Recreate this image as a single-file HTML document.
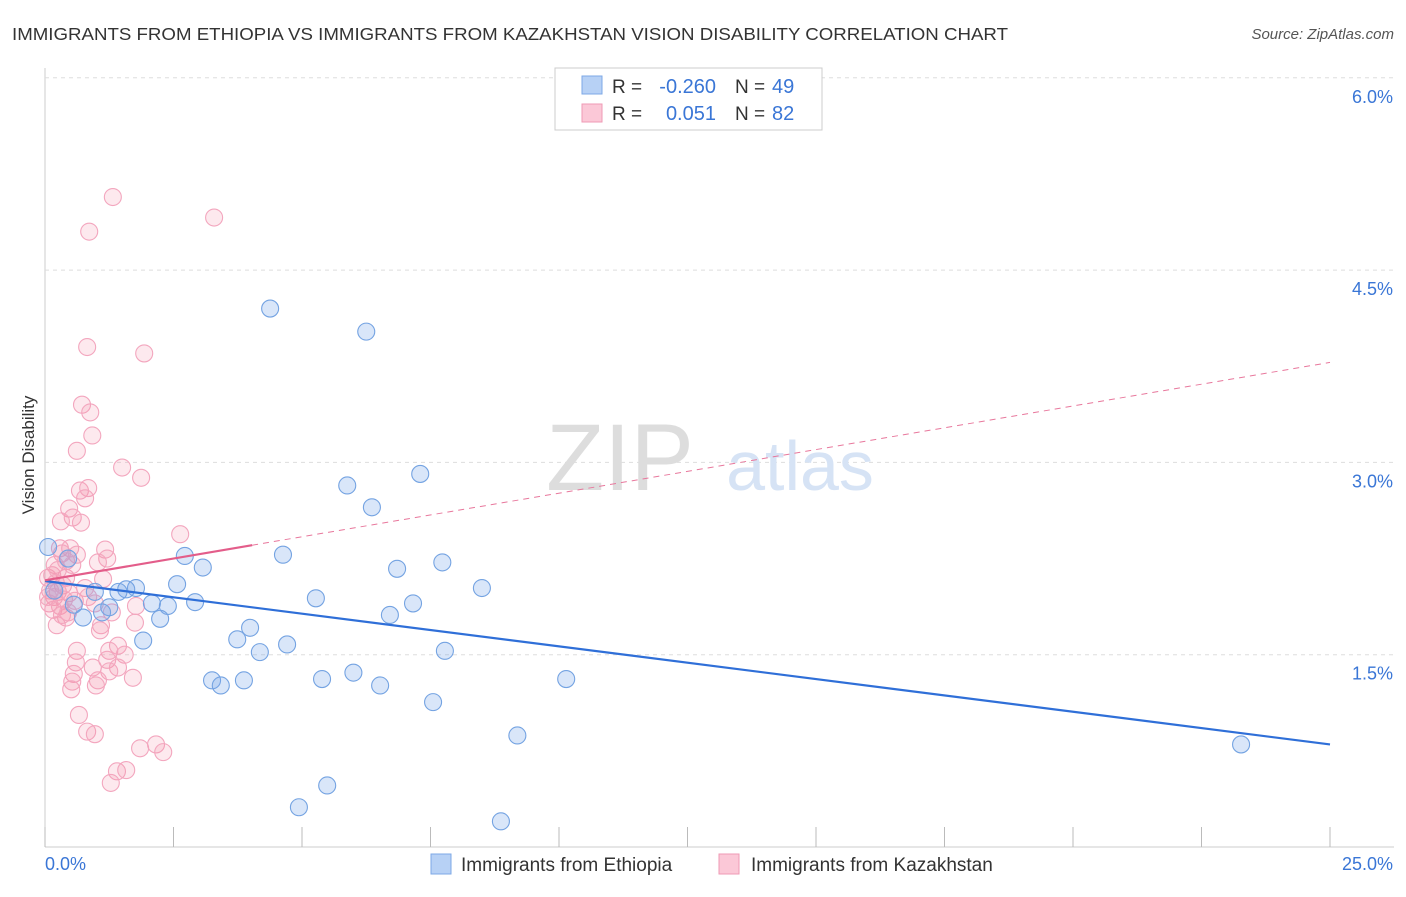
<!DOCTYPE html>
<html><head><meta charset="utf-8"><style>
body{margin:0;background:#fff;font-family:"Liberation Sans",sans-serif;}
svg text{font-family:"Liberation Sans",sans-serif;}
</style></head><body>
<svg id="chart" width="1406" height="892">
<text x="12" y="40" font-size="17.5" fill="#333" textLength="996" lengthAdjust="spacingAndGlyphs">IMMIGRANTS FROM ETHIOPIA VS IMMIGRANTS FROM KAZAKHSTAN VISION DISABILITY CORRELATION CHART</text>
<text x="1394" y="39" font-size="15" fill="#555" font-style="italic" text-anchor="end">Source: ZipAtlas.com</text>
<text x="34" y="455" font-size="17" fill="#333" text-anchor="middle" transform="rotate(-90 34 455)">Vision Disability</text>
<g id="grid"></g>
<g id="yticks"></g>
<g id="xticks"></g>
<text x="620" y="490" font-size="95" fill="#ddd" font-family="Liberation Serif" text-anchor="middle">ZIP</text>
<text x="800" y="490" font-size="70" fill="#d6e3f5" text-anchor="middle">atlas</text>
<g id="pink"></g>
<g id="blue"></g>
<g id="lines"></g>
<g>
<rect x="555" y="68" width="267" height="62" fill="#fff" stroke="#ccc"/>
<rect x="582" y="76" width="20" height="18" fill="#b7d1f5" stroke="#7ea8e6"/>
<rect x="582" y="104" width="20" height="18" fill="#fbc8d7" stroke="#ef9ab4"/>
<text x="612" y="93" font-size="19" fill="#333">R =</text>
<text x="716" y="93" font-size="20" fill="#3a76d6" text-anchor="end">-0.260</text>
<text x="735" y="93" font-size="19" fill="#333">N =</text>
<text x="772" y="93" font-size="20" fill="#3a76d6">49</text>
<text x="612" y="120" font-size="19" fill="#333">R =</text>
<text x="716" y="120" font-size="20" fill="#3a76d6" text-anchor="end">0.051</text>
<text x="735" y="120" font-size="19" fill="#333">N =</text>
<text x="772" y="120" font-size="20" fill="#3a76d6">82</text>
</g>
<g>
<rect x="431" y="854" width="20" height="20" fill="#b7d1f5" stroke="#7ea8e6"/>
<text x="461" y="871" font-size="19" fill="#333">Immigrants from Ethiopia</text>
<rect x="719" y="854" width="20" height="20" fill="#fbc8d7" stroke="#ef9ab4"/>
<text x="751" y="871" font-size="19" fill="#333">Immigrants from Kazakhstan</text>
</g>
<text x="45" y="870" font-size="18" fill="#3a76d6">0.0%</text>
<text x="1393" y="870" font-size="18" fill="#3a76d6" text-anchor="end">25.0%</text>
</svg>
<script>
const yTickValues=[1.5,3.0,4.5,6.0];
const yTickLabels=["1.5%","3.0%","4.5%","6.0%"];
const xTickValues=[0,2.5,5,7.5,10,12.5,15,17.5,20,22.5,25];
const ethX=[4.38,6.25,7.30,5.88,6.36,4.63,2.72,3.07,6.85,7.73,8.50,5.27,2.57,1.77,1.58,1.43,0.97,0.45,0.06,0.18,0.56,1.25,1.11,2.08,2.39,2.92,2.24,0.74,7.16,6.71,3.99,1.91,3.74,4.71,4.18,7.78,6.00,3.25,3.42,3.87,5.39,6.52,10.14,7.55,9.19,23.27,5.49,4.94,8.87];
const ethY=[4.20,4.02,2.91,2.82,2.65,2.28,2.27,2.18,2.17,2.22,2.02,1.94,2.05,2.02,2.01,1.99,1.99,2.25,2.34,2.00,1.89,1.87,1.83,1.90,1.88,1.91,1.78,1.79,1.90,1.81,1.71,1.61,1.62,1.58,1.52,1.53,1.36,1.30,1.26,1.30,1.31,1.26,1.31,1.13,0.87,0.80,0.48,0.31,0.20];
const kazX=[1.32,3.29,0.86,0.82,1.93,0.72,0.88,0.92,0.62,1.50,1.87,0.68,0.84,0.78,0.47,0.54,0.31,0.70,2.63,0.29,0.49,1.17,0.33,0.62,1.21,1.03,0.19,0.06,0.41,1.13,0.35,0.78,0.10,0.25,0.47,0.18,0.37,0.08,0.29,0.16,1.77,1.30,0.41,0.23,1.09,1.75,1.42,1.25,0.62,1.55,0.60,1.21,1.42,0.93,1.25,0.56,1.03,1.71,0.53,0.99,0.51,0.66,0.82,0.97,1.85,2.16,2.30,1.40,1.58,1.28,0.14,0.25,0.41,0.58,0.33,0.06,0.21,0.45,0.84,0.97,0.53,1.07];
const kazY=[5.07,4.91,4.80,3.90,3.85,3.45,3.39,3.21,3.09,2.96,2.88,2.78,2.80,2.72,2.64,2.57,2.54,2.53,2.44,2.33,2.33,2.32,2.29,2.28,2.25,2.22,2.20,2.10,2.10,2.09,2.04,2.02,2.00,1.99,1.98,1.95,1.93,1.90,1.88,1.85,1.88,1.83,1.79,1.73,1.73,1.75,1.57,1.53,1.53,1.50,1.44,1.46,1.40,1.40,1.37,1.35,1.30,1.32,1.29,1.26,1.23,1.03,0.90,0.88,0.77,0.80,0.74,0.59,0.60,0.50,2.12,2.16,2.23,1.92,1.81,1.95,2.06,1.83,1.95,1.90,2.20,1.69];
const ethTrend=[2.075,-0.051];   // intercept, slope
const kazTrend=[2.08,0.068];
const kazSolidEnd=4.03;
const xMax=25;

const NS="http://www.w3.org/2000/svg";
const X=v=>45+v/25*1285;
const Y=v=>847-v/1.5*192.3;
function mk(tag,attrs,parent){const e=document.createElementNS(NS,tag);for(const k in attrs)e.setAttribute(k,attrs[k]);parent.appendChild(e);return e;}
const grid=document.getElementById('grid'),yt=document.getElementById('yticks'),xt=document.getElementById('xticks');
mk('line',{x1:45,y1:68,x2:45,y2:847,stroke:'#ccc'},grid);
mk('line',{x1:45,y1:847,x2:1394,y2:847,stroke:'#ccc'},grid);
yTickValues.forEach((v,i)=>{
  const l=mk('line',{x1:45,y1:Y(v),x2:1394,y2:Y(v),stroke:'#ddd','stroke-dasharray':'4,4'},grid);
  
  
  const t=mk('text',{x:1393,y:Y(v)+25,'font-size':18,fill:'#3a76d6','text-anchor':'end'},yt);
  t.textContent=yTickLabels[i];
  
  
});
xTickValues.forEach(v=>{
  const l=mk('line',{x1:X(v),y1:827,x2:X(v),y2:847,stroke:'#bbb'},xt);
  
  
});
const pg=document.getElementById('pink'),bg=document.getElementById('blue'),lg=document.getElementById('lines');
kazX.forEach((x,i)=>{
  const c=mk('circle',{cx:X(x),cy:Y(kazY[i]),r:8.5,fill:'rgba(244,143,172,0.2)',stroke:'#f3a6be','stroke-width':1.1},pg);
  
  
});
ethX.forEach((x,i)=>{
  const c=mk('circle',{cx:X(x),cy:Y(ethY[i]),r:8.5,fill:'rgba(120,165,235,0.28)',stroke:'#74a3e2','stroke-width':1.1},bg);
  
  
});
const b=mk('line',{x1:X(0),y1:Y(ethTrend[0]),x2:X(xMax),y2:Y(ethTrend[0]+ethTrend[1]*xMax),stroke:'#2f6fd8','stroke-width':2.2},lg);


const pd=mk('line',{x1:X(kazSolidEnd),y1:Y(kazTrend[0]+kazTrend[1]*kazSolidEnd),x2:X(xMax),y2:Y(kazTrend[0]+kazTrend[1]*xMax),stroke:'#e8779c','stroke-width':1,'stroke-dasharray':'6,5'},lg);


const ps=mk('line',{x1:X(0),y1:Y(kazTrend[0]),x2:X(kazSolidEnd),y2:Y(kazTrend[0]+kazTrend[1]*kazSolidEnd),stroke:'#e35d8a','stroke-width':2.2},lg);


</script>
</body></html>
